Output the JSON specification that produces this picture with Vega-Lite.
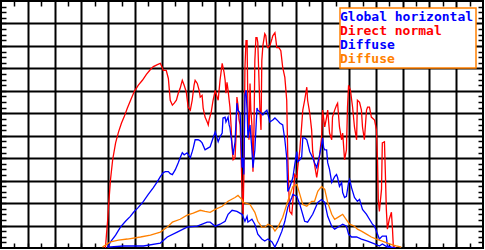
{
"$schema": "https://vega.github.io/schema/vega-lite/v6.json",
"width": 482, "height": 247,
"padding": {"left": 1, "top": 1, "right": 2, "bottom": 2},
"autosize": {"type": "none"},
"background": "white",
"config": {"view": {"stroke": "black", "strokeWidth": 2}, "legend": {"rowPadding": -3}},
"data": {"values": [
{"s":"N","h":6.90,"w":0},{"s":"N","h":6.94,"w":62},{"s":"N","h":6.98,"w":119},{"s":"N","h":7.02,"w":194},{"s":"N","h":7.09,"w":305},{"s":"N","h":7.17,"w":393},{"s":"N","h":7.28,"w":468},{"s":"N","h":7.39,"w":517},{"s":"N","h":7.50,"w":557},{"s":"N","h":7.61,"w":588},{"s":"N","h":7.72,"w":623},{"s":"N","h":7.87,"w":667},{"s":"N","h":7.98,"w":698},{"s":"N","h":8.13,"w":725},{"s":"N","h":8.28,"w":747},{"s":"N","h":8.43,"w":773},{"s":"N","h":8.58,"w":795},{"s":"N","h":8.69,"w":808},{"s":"N","h":8.84,"w":817},{"s":"N","h":8.95,"w":822},{"s":"N","h":9.02,"w":804},{"s":"N","h":9.06,"w":791},{"s":"N","h":9.17,"w":791},{"s":"N","h":9.25,"w":755},{"s":"N","h":9.32,"w":658},{"s":"N","h":9.40,"w":636},{"s":"N","h":9.47,"w":645},{"s":"N","h":9.55,"w":658},{"s":"N","h":9.62,"w":689},{"s":"N","h":9.69,"w":711},{"s":"N","h":9.77,"w":747},{"s":"N","h":9.84,"w":725},{"s":"N","h":9.92,"w":694},{"s":"N","h":9.99,"w":627},{"s":"N","h":10.07,"w":614},{"s":"N","h":10.14,"w":658},{"s":"N","h":10.21,"w":725},{"s":"N","h":10.25,"w":747},{"s":"N","h":10.33,"w":733},{"s":"N","h":10.40,"w":702},{"s":"N","h":10.44,"w":672},{"s":"N","h":10.51,"w":680},{"s":"N","h":10.55,"w":623},{"s":"N","h":10.62,"w":583},{"s":"N","h":10.70,"w":561},{"s":"N","h":10.74,"w":548},{"s":"N","h":10.77,"w":570},{"s":"N","h":10.85,"w":605},{"s":"N","h":10.92,"w":658},{"s":"N","h":11.00,"w":702},{"s":"N","h":11.07,"w":672},{"s":"N","h":11.11,"w":658},{"s":"N","h":11.18,"w":747},{"s":"N","h":11.26,"w":822},{"s":"N","h":11.33,"w":782},{"s":"N","h":11.37,"w":747},{"s":"N","h":11.40,"w":689},{"s":"N","h":11.44,"w":738},{"s":"N","h":11.48,"w":702},{"s":"N","h":11.55,"w":627},{"s":"N","h":11.59,"w":548},{"s":"N","h":11.63,"w":446},{"s":"N","h":11.67,"w":393},{"s":"N","h":11.74,"w":402},{"s":"N","h":11.78,"w":504},{"s":"N","h":11.81,"w":672},{"s":"N","h":11.85,"w":636},{"s":"N","h":11.89,"w":570},{"s":"N","h":11.93,"w":548},{"s":"N","h":11.96,"w":437},{"s":"N","h":12.00,"w":269},{"s":"N","h":12.04,"w":150},{"s":"N","h":12.07,"w":327},{"s":"N","h":12.11,"w":804},{"s":"N","h":12.15,"w":923},{"s":"N","h":12.19,"w":923},{"s":"N","h":12.22,"w":614},{"s":"N","h":12.26,"w":482},{"s":"N","h":12.30,"w":733},{"s":"N","h":12.33,"w":614},{"s":"N","h":12.37,"w":548},{"s":"N","h":12.41,"w":340},{"s":"N","h":12.45,"w":548},{"s":"N","h":12.48,"w":835},{"s":"N","h":12.52,"w":937},{"s":"N","h":12.56,"w":937},{"s":"N","h":12.59,"w":915},{"s":"N","h":12.67,"w":614},{"s":"N","h":12.71,"w":526},{"s":"N","h":12.74,"w":835},{"s":"N","h":12.78,"w":901},{"s":"N","h":12.85,"w":954},{"s":"N","h":12.89,"w":945},{"s":"N","h":12.93,"w":901},{"s":"N","h":12.97,"w":892},{"s":"N","h":13.04,"w":901},{"s":"N","h":13.12,"w":932},{"s":"N","h":13.15,"w":945},{"s":"N","h":13.23,"w":959},{"s":"N","h":13.26,"w":932},{"s":"N","h":13.30,"w":892},{"s":"N","h":13.38,"w":892},{"s":"N","h":13.45,"w":879},{"s":"N","h":13.52,"w":804},{"s":"N","h":13.60,"w":760},{"s":"N","h":13.67,"w":658},{"s":"N","h":13.71,"w":402},{"s":"N","h":13.75,"w":252},{"s":"N","h":13.78,"w":163},{"s":"N","h":13.86,"w":150},{"s":"N","h":13.90,"w":208},{"s":"N","h":13.97,"w":327},{"s":"N","h":14.05,"w":314},{"s":"N","h":14.08,"w":358},{"s":"N","h":14.16,"w":437},{"s":"N","h":14.23,"w":548},{"s":"N","h":14.27,"w":614},{"s":"N","h":14.34,"w":658},{"s":"N","h":14.42,"w":716},{"s":"N","h":14.45,"w":658},{"s":"N","h":14.53,"w":601},{"s":"N","h":14.60,"w":526},{"s":"N","h":14.64,"w":429},{"s":"N","h":14.71,"w":371},{"s":"N","h":14.79,"w":314},{"s":"N","h":14.86,"w":371},{"s":"N","h":14.94,"w":459},{"s":"N","h":14.97,"w":490},{"s":"N","h":15.01,"w":614},{"s":"N","h":15.09,"w":539},{"s":"N","h":15.16,"w":583},{"s":"N","h":15.20,"w":614},{"s":"N","h":15.27,"w":512},{"s":"N","h":15.35,"w":482},{"s":"N","h":15.38,"w":583},{"s":"N","h":15.46,"w":614},{"s":"N","h":15.53,"w":636},{"s":"N","h":15.57,"w":645},{"s":"N","h":15.64,"w":539},{"s":"N","h":15.72,"w":482},{"s":"N","h":15.76,"w":512},{"s":"N","h":15.83,"w":393},{"s":"N","h":15.90,"w":437},{"s":"N","h":15.94,"w":627},{"s":"N","h":15.98,"w":725},{"s":"N","h":16.05,"w":702},{"s":"N","h":16.13,"w":627},{"s":"N","h":16.20,"w":539},{"s":"N","h":16.28,"w":482},{"s":"N","h":16.31,"w":658},{"s":"N","h":16.39,"w":649},{"s":"N","h":16.46,"w":614},{"s":"N","h":16.50,"w":539},{"s":"N","h":16.57,"w":482},{"s":"N","h":16.65,"w":614},{"s":"N","h":16.69,"w":627},{"s":"N","h":16.76,"w":627},{"s":"N","h":16.83,"w":583},{"s":"N","h":16.95,"w":570},{"s":"N","h":17.02,"w":526},{"s":"N","h":17.06,"w":393},{"s":"N","h":17.09,"w":216},{"s":"N","h":17.13,"w":163},{"s":"N","h":17.21,"w":261},{"s":"N","h":17.24,"w":468},{"s":"N","h":17.32,"w":473},{"s":"N","h":17.35,"w":349},{"s":"N","h":17.39,"w":172},{"s":"N","h":17.43,"w":84},{"s":"N","h":17.50,"w":128},{"s":"N","h":17.58,"w":159},{"s":"N","h":17.62,"w":84},{"s":"N","h":17.65,"w":9},{"s":"N","h":17.73,"w":0},
{"s":"G","h":6.98,"w":4},{"s":"G","h":7.09,"w":27},{"s":"G","h":7.28,"w":57},{"s":"G","h":7.46,"w":93},{"s":"G","h":7.65,"w":119},{"s":"G","h":7.83,"w":141},{"s":"G","h":7.95,"w":159},{"s":"G","h":8.13,"w":181},{"s":"G","h":8.32,"w":208},{"s":"G","h":8.50,"w":239},{"s":"G","h":8.69,"w":269},{"s":"G","h":8.84,"w":296},{"s":"G","h":8.95,"w":318},{"s":"G","h":9.06,"w":336},{"s":"G","h":9.14,"w":340},{"s":"G","h":9.25,"w":340},{"s":"G","h":9.32,"w":331},{"s":"G","h":9.40,"w":327},{"s":"G","h":9.51,"w":349},{"s":"G","h":9.62,"w":380},{"s":"G","h":9.69,"w":402},{"s":"G","h":9.77,"w":424},{"s":"G","h":9.84,"w":415},{"s":"G","h":9.95,"w":424},{"s":"G","h":10.07,"w":402},{"s":"G","h":10.14,"w":429},{"s":"G","h":10.18,"w":446},{"s":"G","h":10.25,"w":482},{"s":"G","h":10.36,"w":482},{"s":"G","h":10.44,"w":477},{"s":"G","h":10.51,"w":468},{"s":"G","h":10.62,"w":437},{"s":"G","h":10.74,"w":446},{"s":"G","h":10.81,"w":451},{"s":"G","h":10.92,"w":490},{"s":"G","h":11.00,"w":517},{"s":"G","h":11.11,"w":473},{"s":"G","h":11.18,"w":495},{"s":"G","h":11.26,"w":512},{"s":"G","h":11.29,"w":579},{"s":"G","h":11.37,"w":583},{"s":"G","h":11.40,"w":561},{"s":"G","h":11.48,"w":583},{"s":"G","h":11.52,"w":548},{"s":"G","h":11.55,"w":535},{"s":"G","h":11.63,"w":459},{"s":"G","h":11.67,"w":415},{"s":"G","h":11.74,"w":473},{"s":"G","h":11.81,"w":645},{"s":"G","h":11.85,"w":614},{"s":"G","h":11.93,"w":601},{"s":"G","h":12.00,"w":358},{"s":"G","h":12.04,"w":402},{"s":"G","h":12.07,"w":327},{"s":"G","h":12.11,"w":680},{"s":"G","h":12.15,"w":702},{"s":"G","h":12.19,"w":614},{"s":"G","h":12.22,"w":490},{"s":"G","h":12.30,"w":548},{"s":"G","h":12.37,"w":437},{"s":"G","h":12.41,"w":358},{"s":"G","h":12.48,"w":437},{"s":"G","h":12.56,"w":623},{"s":"G","h":12.59,"w":614},{"s":"G","h":12.67,"w":605},{"s":"G","h":12.78,"w":592},{"s":"G","h":12.85,"w":605},{"s":"G","h":12.93,"w":614},{"s":"G","h":13.04,"w":561},{"s":"G","h":13.15,"w":570},{"s":"G","h":13.23,"w":579},{"s":"G","h":13.34,"w":566},{"s":"G","h":13.41,"w":557},{"s":"G","h":13.52,"w":548},{"s":"G","h":13.60,"w":482},{"s":"G","h":13.67,"w":402},{"s":"G","h":13.71,"w":252},{"s":"G","h":13.78,"w":269},{"s":"G","h":13.90,"w":314},{"s":"G","h":13.97,"w":371},{"s":"G","h":14.05,"w":429},{"s":"G","h":14.08,"w":384},{"s":"G","h":14.16,"w":393},{"s":"G","h":14.23,"w":406},{"s":"G","h":14.27,"w":490},{"s":"G","h":14.34,"w":490},{"s":"G","h":14.42,"w":482},{"s":"G","h":14.53,"w":429},{"s":"G","h":14.64,"w":402},{"s":"G","h":14.71,"w":380},{"s":"G","h":14.79,"w":358},{"s":"G","h":14.90,"w":415},{"s":"G","h":14.97,"w":459},{"s":"G","h":15.01,"w":490},{"s":"G","h":15.05,"w":446},{"s":"G","h":15.09,"w":437},{"s":"G","h":15.16,"w":437},{"s":"G","h":15.20,"w":380},{"s":"G","h":15.27,"w":349},{"s":"G","h":15.35,"w":292},{"s":"G","h":15.46,"w":318},{"s":"G","h":15.53,"w":327},{"s":"G","h":15.57,"w":314},{"s":"G","h":15.64,"w":274},{"s":"G","h":15.72,"w":292},{"s":"G","h":15.76,"w":247},{"s":"G","h":15.83,"w":225},{"s":"G","h":15.90,"w":230},{"s":"G","h":15.98,"w":292},{"s":"G","h":16.02,"w":305},{"s":"G","h":16.09,"w":269},{"s":"G","h":16.20,"w":225},{"s":"G","h":16.31,"w":208},{"s":"G","h":16.39,"w":216},{"s":"G","h":16.50,"w":172},{"s":"G","h":16.65,"w":150},{"s":"G","h":16.76,"w":128},{"s":"G","h":16.87,"w":106},{"s":"G","h":16.95,"w":97},{"s":"G","h":17.02,"w":75},{"s":"G","h":17.13,"w":40},{"s":"G","h":17.24,"w":53},{"s":"G","h":17.39,"w":53},{"s":"G","h":17.43,"w":9},{"s":"G","h":17.58,"w":4},{"s":"G","h":17.73,"w":0},
{"s":"DO","h":6.79,"w":4},{"s":"DO","h":6.90,"w":13},{"s":"DO","h":7.09,"w":27},{"s":"DO","h":7.39,"w":35},{"s":"DO","h":7.72,"w":40},{"s":"DO","h":8.21,"w":49},{"s":"DO","h":8.58,"w":57},{"s":"DO","h":8.95,"w":71},{"s":"DO","h":9.21,"w":93},{"s":"DO","h":9.40,"w":115},{"s":"DO","h":9.69,"w":128},{"s":"DO","h":9.95,"w":146},{"s":"DO","h":10.18,"w":155},{"s":"DO","h":10.44,"w":168},{"s":"DO","h":10.62,"w":163},{"s":"DO","h":10.81,"w":159},{"s":"DO","h":11.00,"w":172},{"s":"DO","h":11.26,"w":186},{"s":"DO","h":11.48,"w":208},{"s":"DO","h":11.74,"w":225},{"s":"DO","h":11.85,"w":234},{"s":"DO","h":12.00,"w":216},{"s":"DO","h":12.04,"w":203},{"s":"DO","h":12.30,"w":194},{"s":"DO","h":12.48,"w":159},{"s":"DO","h":12.59,"w":119},{"s":"DO","h":12.74,"w":93},{"s":"DO","h":12.85,"w":93},{"s":"DO","h":12.97,"w":106},{"s":"DO","h":13.12,"w":97},{"s":"DO","h":13.23,"w":75},{"s":"DO","h":13.34,"w":93},{"s":"DO","h":13.52,"w":137},{"s":"DO","h":13.71,"w":208},{"s":"DO","h":13.86,"w":261},{"s":"DO","h":13.90,"w":274},{"s":"DO","h":14.05,"w":283},{"s":"DO","h":14.16,"w":239},{"s":"DO","h":14.27,"w":194},{"s":"DO","h":14.42,"w":186},{"s":"DO","h":14.60,"w":208},{"s":"DO","h":14.71,"w":208},{"s":"DO","h":14.83,"w":252},{"s":"DO","h":14.97,"w":274},{"s":"DO","h":15.09,"w":261},{"s":"DO","h":15.20,"w":203},{"s":"DO","h":15.35,"w":150},{"s":"DO","h":15.46,"w":128},{"s":"DO","h":15.64,"w":141},{"s":"DO","h":15.76,"w":150},{"s":"DO","h":15.94,"w":119},{"s":"DO","h":16.02,"w":106},{"s":"DO","h":16.20,"w":97},{"s":"DO","h":16.31,"w":84},{"s":"DO","h":16.46,"w":75},{"s":"DO","h":16.65,"w":62},{"s":"DO","h":16.83,"w":49},{"s":"DO","h":17.02,"w":40},{"s":"DO","h":17.24,"w":31},{"s":"DO","h":17.50,"w":18},{"s":"DO","h":17.76,"w":9},{"s":"DO","h":17.95,"w":4},
{"s":"DB","h":6.98,"w":4},{"s":"DB","h":7.57,"w":9},{"s":"DB","h":8.32,"w":9},{"s":"DB","h":8.95,"w":22},{"s":"DB","h":9.21,"w":49},{"s":"DB","h":9.58,"w":71},{"s":"DB","h":9.95,"w":93},{"s":"DB","h":10.33,"w":97},{"s":"DB","h":10.70,"w":115},{"s":"DB","h":10.81,"w":115},{"s":"DB","h":11.00,"w":97},{"s":"DB","h":11.18,"w":106},{"s":"DB","h":11.37,"w":119},{"s":"DB","h":11.48,"w":150},{"s":"DB","h":11.63,"w":168},{"s":"DB","h":11.81,"w":163},{"s":"DB","h":12.00,"w":150},{"s":"DB","h":12.11,"w":119},{"s":"DB","h":12.19,"w":141},{"s":"DB","h":12.22,"w":115},{"s":"DB","h":12.37,"w":128},{"s":"DB","h":12.48,"w":106},{"s":"DB","h":12.59,"w":62},{"s":"DB","h":12.74,"w":40},{"s":"DB","h":12.85,"w":31},{"s":"DB","h":12.97,"w":40},{"s":"DB","h":13.12,"w":27},{"s":"DB","h":13.23,"w":4},{"s":"DB","h":13.34,"w":31},{"s":"DB","h":13.49,"w":75},{"s":"DB","h":13.60,"w":119},{"s":"DB","h":13.71,"w":181},{"s":"DB","h":13.86,"w":225},{"s":"DB","h":13.90,"w":239},{"s":"DB","h":14.05,"w":230},{"s":"DB","h":14.16,"w":194},{"s":"DB","h":14.34,"w":119},{"s":"DB","h":14.45,"w":115},{"s":"DB","h":14.64,"w":150},{"s":"DB","h":14.83,"w":203},{"s":"DB","h":14.97,"w":216},{"s":"DB","h":15.09,"w":203},{"s":"DB","h":15.20,"w":141},{"s":"DB","h":15.35,"w":97},{"s":"DB","h":15.46,"w":84},{"s":"DB","h":15.64,"w":97},{"s":"DB","h":15.76,"w":106},{"s":"DB","h":15.90,"w":97},{"s":"DB","h":15.98,"w":62},{"s":"DB","h":16.09,"w":49},{"s":"DB","h":16.28,"w":49},{"s":"DB","h":16.46,"w":40},{"s":"DB","h":16.69,"w":31},{"s":"DB","h":16.95,"w":18},{"s":"DB","h":17.13,"w":9},{"s":"DB","h":17.24,"w":18},{"s":"DB","h":17.43,"w":4},{"s":"DB","h":17.69,"w":0}
]},
"layer": [
{"mark": {"type": "line", "strokeWidth": 1.3, "clip": true},
 "encoding": {
  "x": {"field": "h", "type": "quantitative", "scale": {"domain": [3, 21], "nice": false, "zero": false},
   "axis": {"orient": "bottom", "title": null, "labels": false, "domain": false,
    "values": [3.5,4,4.5,5,5.5,6,6.5,7,7.5,8,8.5,9,9.5,10,10.5,11,11.5,12,12.5,13,13.5,14,14.5,15,15.5,16,16.5,17,17.5,18,18.5,19,19.5,20,20.5],
    "tickSize": -5, "tickColor": "black", "tickWidth": 1.5,
    "grid": true, "gridColor": "black", "gridWidth": 2,
    "gridOpacity": {"condition": {"test": "datum.value % 1 === 0", "value": 1}, "value": 0}}},
  "y": {"field": "w", "type": "quantitative", "scale": {"domain": [0, 1100], "nice": false},
   "axis": {"orient": "left", "title": null, "labels": false, "domain": false,
    "values": [25,50,75,100,125,150,175,200,225,250,275,300,325,350,375,400,425,450,475,500,525,550,575,600,625,650,675,700,725,750,775,800,825,850,875,900,925,950,975,1000,1025,1050,1075],
    "tickSize": -5, "tickColor": "black", "tickWidth": 1.5,
    "grid": true, "gridColor": "black", "gridWidth": 2,
    "gridOpacity": {"condition": {"test": "datum.value % 100 === 0", "value": 1}, "value": 0}}},
  "color": {"field": "s", "type": "nominal",
   "scale": {"domain": ["G", "N", "DB", "DO"], "range": ["#0000ff", "#ff0000", "#0000ff", "#ff8000"]},
   "legend": {"title": null, "orient": "top-right", "offset": 7,
    "labelExpr": "datum.value == 'G' ? 'Global horizontal' : datum.value == 'N' ? 'Direct normal' : 'Diffuse'",
    "labelFont": "DejaVu Sans Mono", "labelFontSize": 13, "labelFontWeight": "bold", "labelLimit": 400, "labelBaseline": "middle",
    "symbolType": "circle", "symbolSize": 1, "symbolOpacity": 0, "symbolStrokeWidth": 0, "labelOffset": -15,
    "rowPadding": -3, "padding": 2, "strokeColor": "#ff8000", "fillColor": "white", "cornerRadius": 0,
    "encode": {"legend": {"update": {"strokeWidth": {"value": 1.5}}},
               "symbols": {"update": {"size": {"value": 0}, "strokeWidth": {"value": 0}, "opacity": {"value": 0}}},
               "labels": {"update": {"fill": {"scale": "color", "field": "value"}, "lineHeight": {"value": 11}}}}}}
 }},
{"mark": {"type": "point", "opacity": 0},
 "encoding": {
  "x": {"field": "h", "type": "quantitative",
   "axis": {"orient": "top", "title": null, "labels": false, "domain": false, "grid": false,
    "values": [3.5,4.5,5.5,6.5,7.5,8.5,9.5,10.5,11.5,12.5,13.5,14.5,15.5,16.5,17.5,18.5,19.5,20.5],
    "tickSize": -5, "tickColor": "black", "tickWidth": 1.5}},
  "y": {"field": "w", "type": "quantitative",
   "axis": {"orient": "right", "title": null, "labels": false, "domain": false, "grid": false,
    "values": [25,50,75,125,150,175,225,250,275,325,350,375,425,450,475,525,550,575,625,650,675,725,750,775,825,850,875,925,950,975,1025,1050,1075],
    "tickSize": -5, "tickColor": "black", "tickWidth": 1.5}}
 }}
],
"resolve": {"axis": {"x": "independent", "y": "independent"}}
}
